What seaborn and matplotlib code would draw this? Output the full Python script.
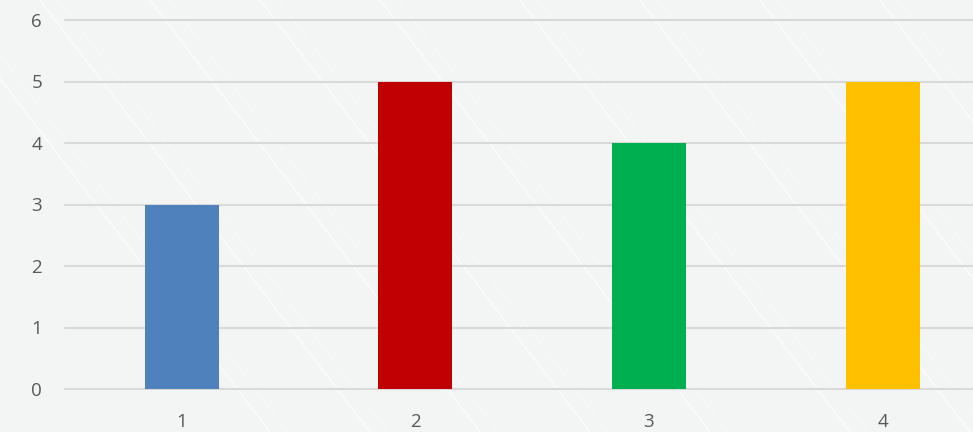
import matplotlib
matplotlib.use("Agg")
import matplotlib.pyplot as plt
import seaborn as sns
import pandas as pd
import numpy as np
from matplotlib.lines import Line2D

categories = ["1", "2", "3", "4"]
values = [3, 5, 4, 5]
colors = ["#4F81BD", "#C00000", "#00B050", "#FFC000"]
y_ticks = [0, 1, 2, 3, 4, 5, 6]

sns.set_theme(style="white")
plt.rcParams["font.family"] = ["Open Sans", "DejaVu Sans"]

W, H = 973, 432
fig = plt.figure(figsize=(W / 100, H / 100), dpi=100)
fig.patch.set_facecolor("#F3F4F4")

# decorative diagonal streaks in the background
streaks = [(-60, 60), (40, 180), (150, 230), (260, 420), (380, 560), (520, 640),
           (640, 760), (760, 900), (880, 1010), (990, 1120), (1100, 1240)]
for x0, x1 in streaks:
    for off, lw, a in [(0, 1.2, 0.6), (18, 0.8, 0.4)]:
        fig.add_artist(Line2D([(x0 + off) / W, (x0 + off + 330) / W], [1.0, 0.0],
                              transform=fig.transFigure, color="white",
                              lw=lw, alpha=a, zorder=0))

left, right, bottom, top = 65, 973, 389, 20
ax = fig.add_axes([left / W, 1 - bottom / H, (right - left) / W, (bottom - top) / H])
ax.set_facecolor("none")

df = pd.DataFrame({"cat": categories, "val": values})
sns.barplot(data=df, x="cat", y="val", hue="cat", palette=colors, legend=False,
            width=0.317, saturation=1, ax=ax, zorder=3,
            edgecolor="none", linewidth=0)

ax.set_xlim(-0.5, 3.387)
ax.set_ylim(0, 6)
ax.set_yticks(y_ticks)
for t in y_ticks:
    ax.axhline(t, color="#D9D9D9", lw=1.5, zorder=1, clip_on=False)

for s in ax.spines.values():
    s.set_visible(False)
ax.tick_params(axis="both", length=0, labelsize=13.5, labelcolor="#595959")
ax.tick_params(axis="y", pad=16.5)
ax.tick_params(axis="x", pad=17)
ax.set_xlabel("")
ax.set_ylabel("")

fig.savefig("out.png", dpi=100, facecolor=fig.get_facecolor())
